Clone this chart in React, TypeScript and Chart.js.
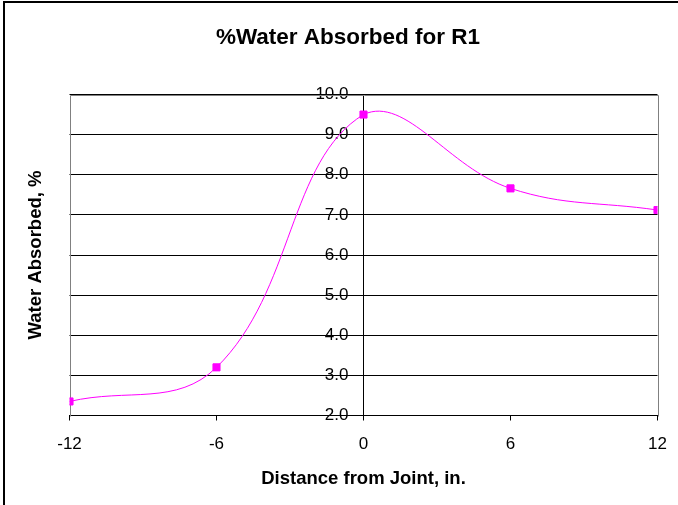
import { useEffect, useRef } from "react";
import { Chart, registerables } from "chart.js";

Chart.register(...registerables);

const distances = [-12, -6, 0, 6, 12];
const waterAbsorbed = [2.35, 3.2, 9.5, 7.66, 7.12];
const xTickValues = [-12, -6, 0, 6, 12];
const yTickValues = [2, 3, 4, 5, 6, 7, 8, 9, 10];

const chartTitle = "%Water Absorbed for R1";
const xTitle = "Distance from Joint, in.";
const yTitle = "Water Absorbed, %";

const FONT = "Arial, 'Liberation Sans', sans-serif";

const framePlugin = {
  id: "frame",
  beforeDraw(chart: any) {
    const { ctx, width, height } = chart;
    ctx.save();
    ctx.fillStyle = "#ffffff";
    ctx.fillRect(0, 0, width, height);
    ctx.fillStyle = "#000000";
    ctx.fillRect(3, 1, width - 3, 2);
    ctx.fillRect(3, 1, 2, height - 1);
    ctx.restore();
    // shift the centred y-axis labels to the left of the axis tick marks
    const y = chart.scales.y;
    if (y && typeof y._computeLabelItems === "function") {
      const items = y._computeLabelItems(chart.chartArea);
      items.forEach((it: any) => {
        const tr = it.options.translation;
        it.options.translation = [tr[0] - 15, tr[1]];
        it.options.textAlign = "right";
      });
      y._labelItems = items;
    }
  },
  beforeDatasetsDraw(chart: any) {
    const { ctx, chartArea } = chart;
    const l = Math.round(chartArea.left) + 0.5;
    const r = Math.round(chartArea.right) + 0.5;
    const t = Math.round(chartArea.top) + 0.5;
    const b = Math.round(chartArea.bottom) + 0.5;
    ctx.save();
    ctx.strokeStyle = "#808080";
    ctx.lineWidth = 1;
    ctx.beginPath();
    ctx.moveTo(l, b);
    ctx.lineTo(l, t);
    ctx.lineTo(r, t);
    ctx.lineTo(r, b);
    ctx.stroke();
    ctx.restore();
  },
};

export default function App() {
  const canvasRef = useRef<HTMLCanvasElement | null>(null);

  useEffect(() => {
    if (!canvasRef.current) return;
    const chart = new Chart(canvasRef.current, {
      type: "line",
      data: {
        datasets: [
          {
            data: distances.map((x, i) => ({ x, y: waterAbsorbed[i] })),
            borderColor: "#ff00ff",
            backgroundColor: "#ff00ff",
            borderWidth: 1,
            tension: 0.4,
            pointStyle: "rect",
            pointRadius: 5,
            pointBorderWidth: 1,
            pointBorderColor: "#ff00ff",
            pointBackgroundColor: "#ff00ff",
            fill: false,
          },
        ],
      },
      options: {
        responsive: false,
        animation: false,
        devicePixelRatio: 1,
        layout: { padding: { left: 38.5, right: 20.5, top: 0, bottom: 0 } },
        plugins: {
          legend: { display: false },
          tooltip: { enabled: false },
          title: {
            display: true,
            text: chartTitle,
            color: "#000",
            font: { family: FONT, size: 22.5, weight: "bold" },
            padding: { top: 24.5, bottom: 43 },
          },
        },
        scales: {
          x: {
            type: "linear",
            position: "bottom",
            min: -12,
            max: 12,
            afterBuildTicks: (scale: any) => {
              scale.ticks = xTickValues.map((v) => ({ value: v }));
            },
            afterFit: (scale: any) => {
              scale.height = 89.5;
              scale.paddingLeft = 10;
              scale.paddingRight = 10;
            },
            ticks: {
              color: "#000",
              font: { family: FONT, size: 17 },
              padding: 13.5,
              callback: (v: any) => String(v),
            },
            grid: {
              drawOnChartArea: false,
              drawTicks: true,
              tickLength: 5,
              color: "#000",
            },
            border: { display: true, color: "#000", width: 1 },
            title: {
              display: true,
              text: xTitle,
              color: "#000",
              font: { family: FONT, size: 18.5, weight: "bold" },
              padding: { top: 10, bottom: 15.2 },
            },
          },
          y: {
            type: "linear",
            position: { x: 0 } as any,
            min: 2,
            max: 10,
            afterBuildTicks: (scale: any) => {
              scale.ticks = yTickValues.map((v) => ({ value: v }));
            },
            ticks: {
              color: "#000",
              font: { family: FONT, size: 17 },
              padding: 9,
              callback: (v: any) => Number(v).toFixed(1),
            },
            grid: {
              color: "#000",
              lineWidth: 1,
              drawTicks: true,
              tickLength: 5,
            },
            border: { display: true, color: "#000", width: 1 },
          },
          yt: {
            type: "linear",
            axis: "y",
            position: "left",
            display: true,
            grid: { display: false },
            border: { display: false },
            ticks: { display: false },
            title: {
              display: true,
              text: yTitle,
              color: "#000",
              font: { family: FONT, size: 18.5, weight: "bold" },
              padding: { top: -14.1, bottom: 0 },
            },
            afterFit: (scale: any) => {
              scale.width = 31;
            },
          } as any,
        },
      },
      plugins: [framePlugin],
    } as any);
    return () => chart.destroy();
  }, []);

  return (
    <div style={{ position: "absolute", left: 0, top: 0, width: 678, height: 505 }}>
      <canvas ref={canvasRef} width={678} height={505} style={{ display: "block" }} />
    </div>
  );
}
